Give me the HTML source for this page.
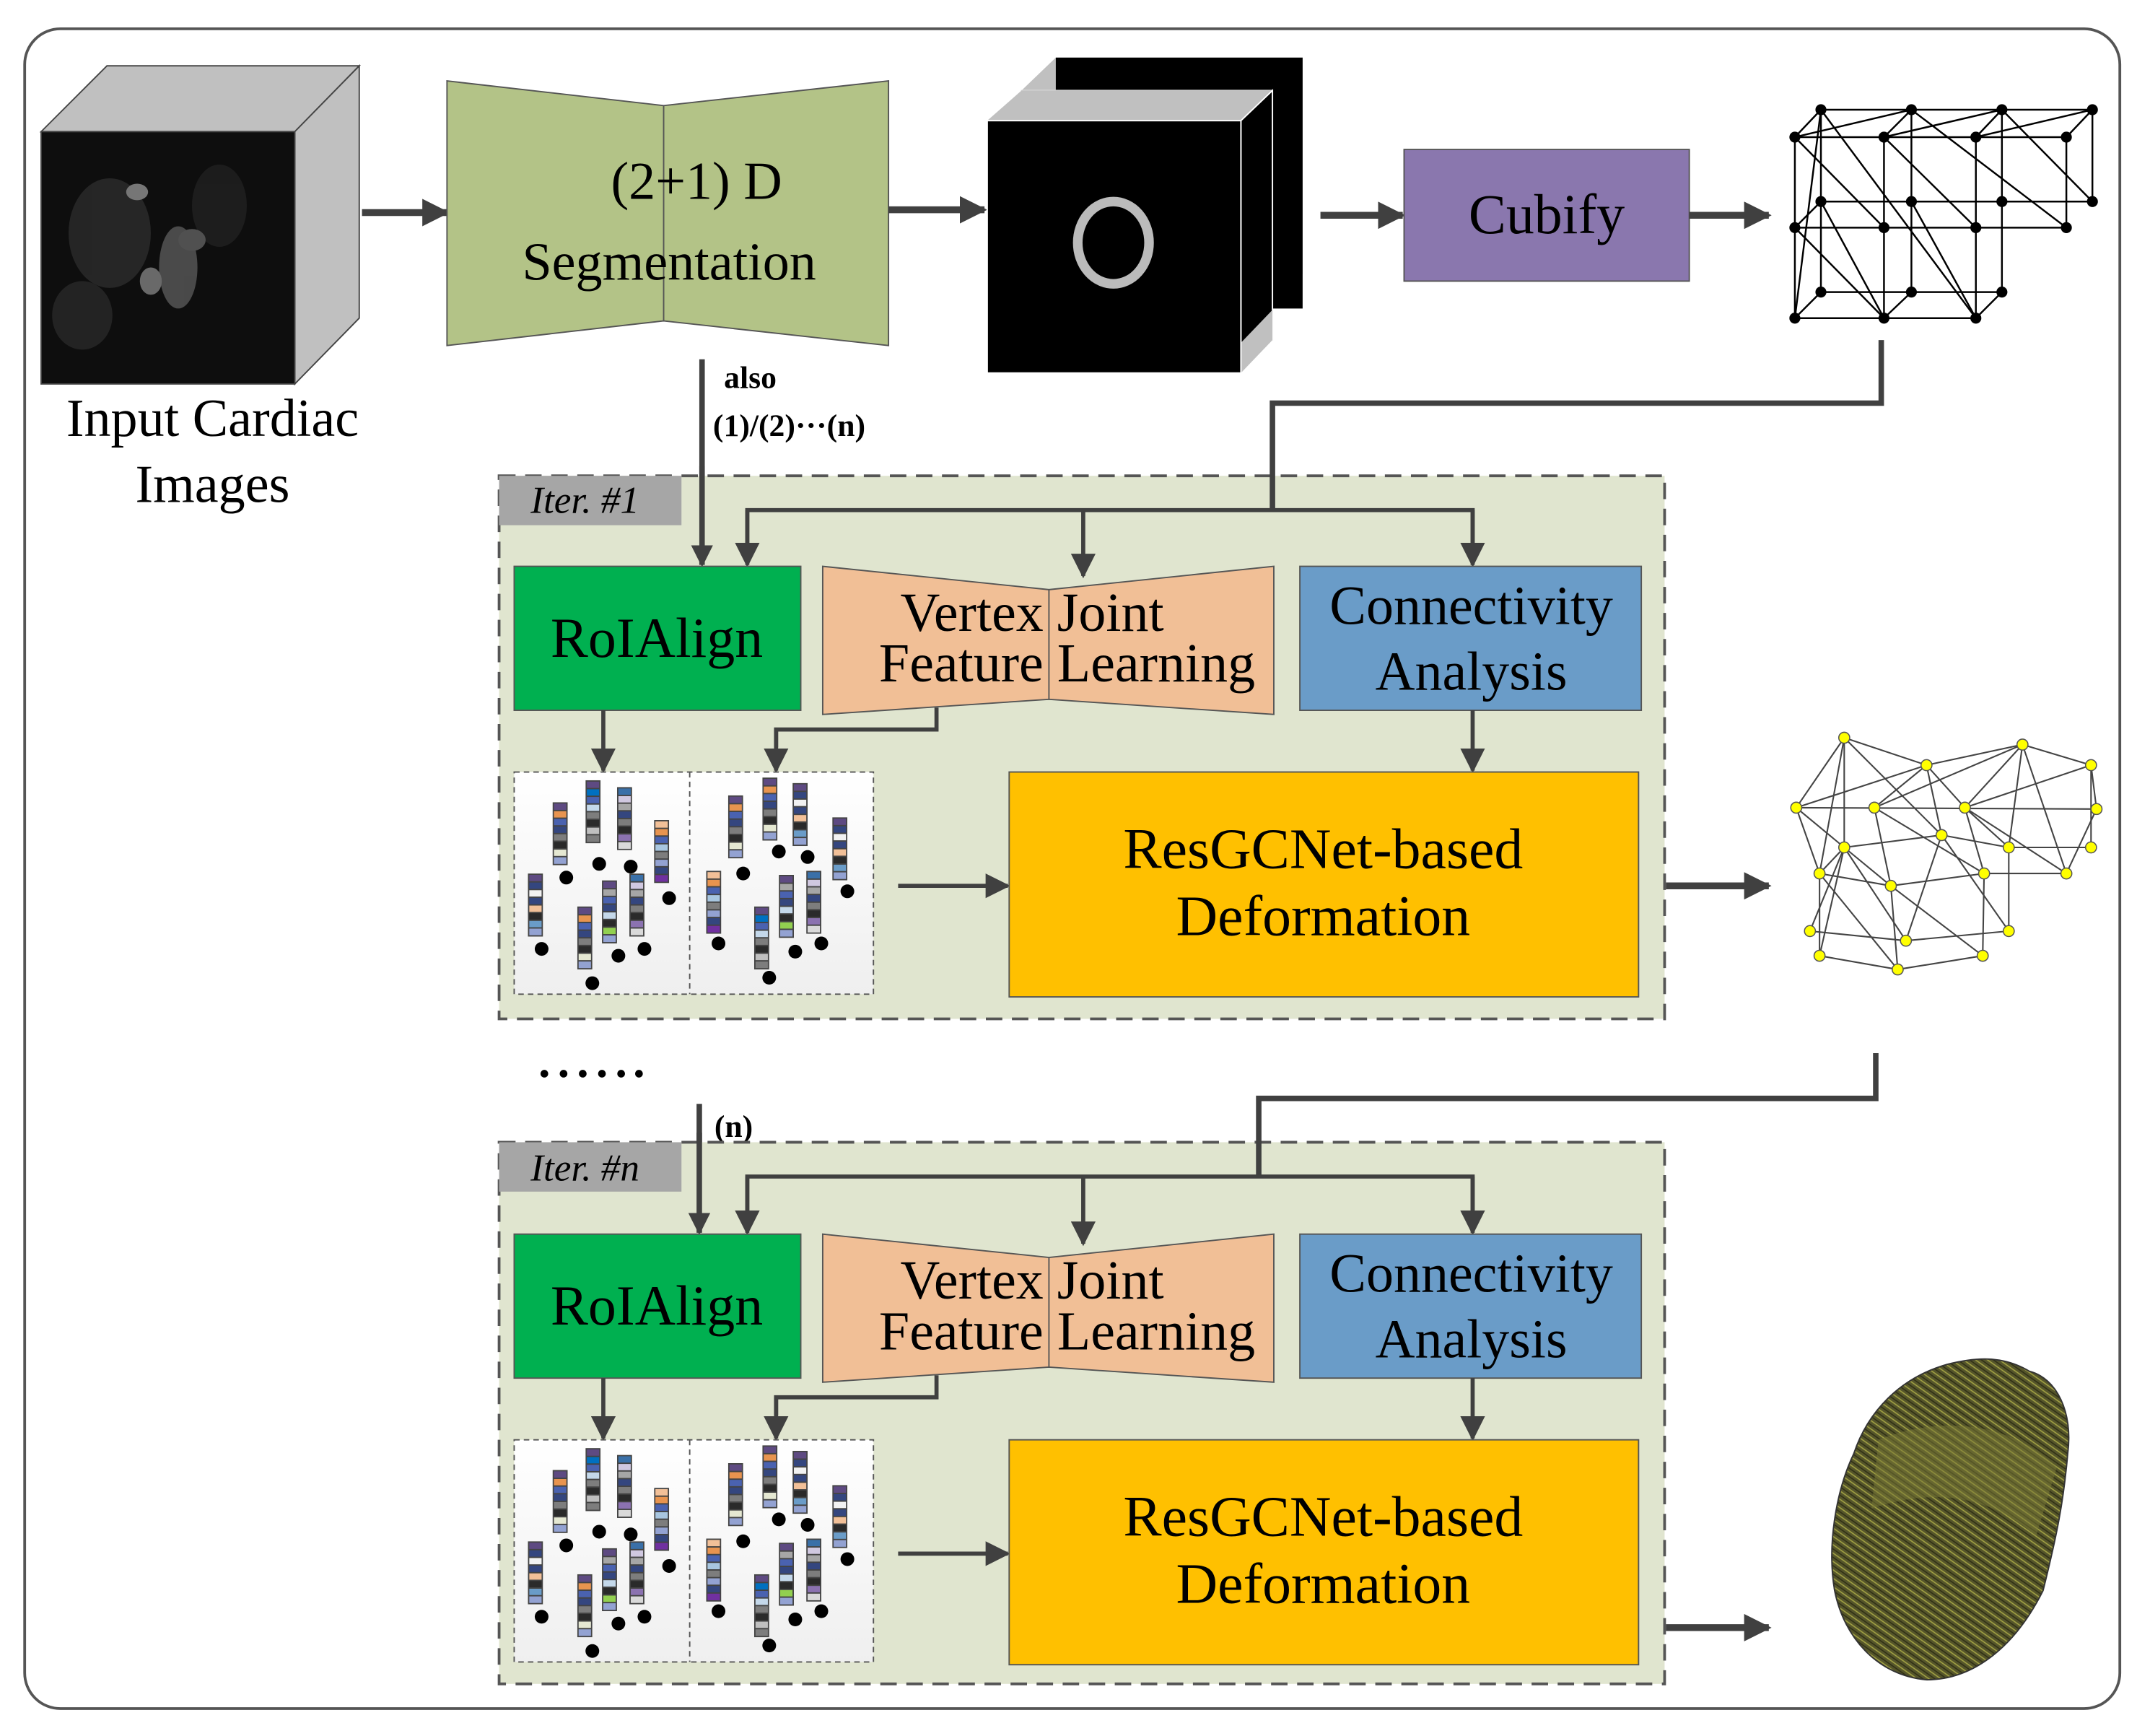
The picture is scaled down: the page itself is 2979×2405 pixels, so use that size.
<!DOCTYPE html>
<html><head><meta charset="utf-8"><style>
html,body{margin:0;padding:0;background:#fff;}
svg{display:block;}
text{font-family:"Liberation Serif",serif;fill:#000;}
</style></head><body>
<svg width="2979" height="2405" viewBox="0 0 1568 1266" preserveAspectRatio="none" xmlns="http://www.w3.org/2000/svg">
<defs>
<marker id="ah" viewBox="0 0 10 10" refX="9" refY="5" markerWidth="4" markerHeight="4" orient="auto"><path d="M0,0 L10,5 L0,10 Z" fill="#404040"/></marker>
<marker id="ah2" viewBox="0 0 10 10" refX="9" refY="5" markerWidth="6" markerHeight="6" orient="auto"><path d="M0,0 L10,5 L0,10 Z" fill="#404040"/></marker>
<linearGradient id="pg" x1="0" y1="0" x2="0" y2="1"><stop offset="0" stop-color="#ffffff"/><stop offset="1" stop-color="#efefef"/></linearGradient>
<pattern id="hz" width="5" height="5" patternUnits="userSpaceOnUse" patternTransform="rotate(35)"><rect width="5" height="5" fill="#55552a"/><line x1="0" y1="1" x2="5" y2="1" stroke="#a5a545" stroke-width="0.8"/><line x1="0" y1="3.5" x2="5" y2="3.5" stroke="#2e2e14" stroke-width="0.8"/></pattern>
<symbol id="s1" viewBox="0 0 11 46" width="11" height="46"><rect x="0" y="0" width="11" height="46" fill="#444"/><rect x="1" y="1" width="9" height="4.6" fill="#5e4a82"/><rect x="1" y="6.6" width="9" height="4.6" fill="#e8944f"/><rect x="1" y="12.2" width="9" height="4.6" fill="#4a62b0"/><rect x="1" y="17.8" width="9" height="4.6" fill="#34467f"/><rect x="1" y="23.4" width="9" height="4.6" fill="#7d7d7d"/><rect x="1" y="29" width="9" height="4.6" fill="#2a2a2a"/><rect x="1" y="34.6" width="9" height="4.6" fill="#e5e8d2"/><rect x="1" y="40.2" width="9" height="4.8" fill="#93a2d2"/></symbol>
<symbol id="s2" viewBox="0 0 11 46" width="11" height="46"><rect x="0" y="0" width="11" height="46" fill="#444"/><rect x="1" y="1" width="9" height="4.6" fill="#5e4a82"/><rect x="1" y="6.6" width="9" height="4.6" fill="#0070c0"/><rect x="1" y="12.2" width="9" height="4.6" fill="#4a62b0"/><rect x="1" y="17.8" width="9" height="4.6" fill="#c4d8ea"/><rect x="1" y="23.4" width="9" height="4.6" fill="#7d7d7d"/><rect x="1" y="29" width="9" height="4.6" fill="#2a2a2a"/><rect x="1" y="34.6" width="9" height="4.6" fill="#bfbfbf"/><rect x="1" y="40.2" width="9" height="4.8" fill="#7d7d7d"/></symbol>
<symbol id="s3" viewBox="0 0 11 46" width="11" height="46"><rect x="0" y="0" width="11" height="46" fill="#444"/><rect x="1" y="1" width="9" height="4.6" fill="#3a70a8"/><rect x="1" y="6.6" width="9" height="4.6" fill="#d0c8e0"/><rect x="1" y="12.2" width="9" height="4.6" fill="#a6a6a6"/><rect x="1" y="17.8" width="9" height="4.6" fill="#34467f"/><rect x="1" y="23.4" width="9" height="4.6" fill="#7d7d7d"/><rect x="1" y="29" width="9" height="4.6" fill="#2a2a2a"/><rect x="1" y="34.6" width="9" height="4.6" fill="#8b72b0"/><rect x="1" y="40.2" width="9" height="4.8" fill="#d9d9d9"/></symbol>
<symbol id="s4" viewBox="0 0 11 46" width="11" height="46"><rect x="0" y="0" width="11" height="46" fill="#444"/><rect x="1" y="1" width="9" height="4.6" fill="#f2c098"/><rect x="1" y="6.6" width="9" height="4.6" fill="#e8944f"/><rect x="1" y="12.2" width="9" height="4.6" fill="#4a62b0"/><rect x="1" y="17.8" width="9" height="4.6" fill="#a8c6e0"/><rect x="1" y="23.4" width="9" height="4.6" fill="#7d7d7d"/><rect x="1" y="29" width="9" height="4.6" fill="#93a2d2"/><rect x="1" y="34.6" width="9" height="4.6" fill="#34467f"/><rect x="1" y="40.2" width="9" height="4.8" fill="#7030a0"/></symbol>
<symbol id="s5" viewBox="0 0 11 46" width="11" height="46"><rect x="0" y="0" width="11" height="46" fill="#444"/><rect x="1" y="1" width="9" height="4.6" fill="#5e4a82"/><rect x="1" y="6.6" width="9" height="4.6" fill="#a6a6a6"/><rect x="1" y="12.2" width="9" height="4.6" fill="#4a62b0"/><rect x="1" y="17.8" width="9" height="4.6" fill="#34467f"/><rect x="1" y="23.4" width="9" height="4.6" fill="#c4d8ea"/><rect x="1" y="29" width="9" height="4.6" fill="#2a2a2a"/><rect x="1" y="34.6" width="9" height="4.6" fill="#92d050"/><rect x="1" y="40.2" width="9" height="4.8" fill="#93a2d2"/></symbol>
<symbol id="s6" viewBox="0 0 11 46" width="11" height="46"><rect x="0" y="0" width="11" height="46" fill="#444"/><rect x="1" y="1" width="9" height="4.6" fill="#5e4a82"/><rect x="1" y="6.6" width="9" height="4.6" fill="#34467f"/><rect x="1" y="12.2" width="9" height="4.6" fill="#f2f2f2"/><rect x="1" y="17.8" width="9" height="4.6" fill="#34467f"/><rect x="1" y="23.4" width="9" height="4.6" fill="#f2c098"/><rect x="1" y="29" width="9" height="4.6" fill="#2a2a2a"/><rect x="1" y="34.6" width="9" height="4.6" fill="#6a9cc8"/><rect x="1" y="40.2" width="9" height="4.8" fill="#93a2d2"/></symbol>
<g id="feat">
<rect x="375" y="563" width="262" height="162" fill="url(#pg)" stroke="#555" stroke-width="1" stroke-dasharray="4,3"/>
<line x1="503" y1="563" x2="503" y2="725" stroke="#555" stroke-width="1" stroke-dasharray="4,3"/>
<use href="#s2" x="427" y="569"/><use href="#s1" x="403" y="585"/><use href="#s3" x="450" y="574"/><use href="#s4" x="477" y="598"/>
<use href="#s6" x="385" y="637"/><use href="#s1" x="421" y="661"/><use href="#s5" x="439" y="642"/><use href="#s3" x="459" y="637"/>
<use href="#s1" x="531" y="580"/><use href="#s1" x="556" y="567"/><use href="#s6" x="578" y="571"/><use href="#s6" x="607" y="596"/>
<use href="#s4" x="515" y="635"/><use href="#s2" x="550" y="661"/><use href="#s5" x="568" y="638"/><use href="#s3" x="588" y="635"/>
<g fill="#000"><circle cx="413" cy="640" r="5"/><circle cx="437" cy="630" r="5"/><circle cx="460" cy="632" r="5"/><circle cx="488" cy="655" r="5"/><circle cx="395" cy="692" r="5"/><circle cx="451" cy="697" r="5"/><circle cx="470" cy="692" r="5"/><circle cx="432" cy="717" r="5"/>
<circle cx="568" cy="621" r="5"/><circle cx="589" cy="625" r="5"/><circle cx="542" cy="637" r="5"/><circle cx="618" cy="650" r="5"/><circle cx="524" cy="688" r="5"/><circle cx="580" cy="694" r="5"/><circle cx="599" cy="688" r="5"/><circle cx="561" cy="713" r="5"/></g>
</g>
</defs>

<rect x="18" y="21" width="1528" height="1225" rx="26" fill="#fff" stroke="#555" stroke-width="2"/>

<!-- input cube -->
<polygon points="30,96 78,48 262,48 215,96" fill="#c0c0c0" stroke="#444" stroke-width="1"/>
<polygon points="215,96 262,48 262,232 215,280" fill="#c0c0c0" stroke="#444" stroke-width="1"/>
<rect x="30" y="96" width="185" height="184" fill="#0e0e0e" stroke="#444" stroke-width="1"/>
<g opacity="0.75">
<ellipse cx="80" cy="170" rx="30" ry="40" fill="#2e2e2e"/>
<ellipse cx="130" cy="195" rx="14" ry="30" fill="#5e5e5e"/>
<ellipse cx="110" cy="205" rx="8" ry="10" fill="#888"/>
<ellipse cx="60" cy="230" rx="22" ry="25" fill="#2a2a2a"/>
<ellipse cx="160" cy="150" rx="20" ry="30" fill="#222"/>
<ellipse cx="100" cy="140" rx="8" ry="6" fill="#999"/>
<ellipse cx="140" cy="175" rx="10" ry="8" fill="#666"/>
</g>
<text x="155" y="318" font-size="39" text-anchor="middle">Input Cardiac</text>
<text x="155" y="366" font-size="39" text-anchor="middle">Images</text>

<line x1="264" y1="155" x2="326" y2="155" stroke="#404040" stroke-width="5" marker-end="url(#ah)"/>

<!-- segmentation -->
<polygon points="326,59 484,77 648,59 648,252 484,234 326,252" fill="#b3c387" stroke="#555" stroke-width="1"/>
<line x1="484" y1="77" x2="484" y2="234" stroke="#555" stroke-width="1"/>
<text x="508" y="145" font-size="39" text-anchor="middle">(2+1) D</text>
<text x="488" y="204" font-size="39" text-anchor="middle">Segmentation</text>

<line x1="648" y1="153" x2="718" y2="153" stroke="#404040" stroke-width="5" marker-end="url(#ah)"/>

<!-- stack -->
<polygon points="745,66 770,42 950,42 950,200 928,225 745,225" fill="#c0c0c0"/>
<rect x="770" y="42" width="180" height="183" fill="#000"/>
<rect x="745" y="66" width="183" height="182" fill="#000" stroke="#ddd" stroke-width="1"/>
<polygon points="720,88 745,66 928,66 905,88" fill="#c0c0c0"/>
<polygon points="905,88 928,66 928,248 905,272" fill="#000" stroke="#fff" stroke-width="1"/>
<polygon points="905,250 928,226 928,248 905,272" fill="#c0c0c0"/>
<rect x="720" y="88" width="185" height="184" fill="#000" stroke="#fff" stroke-width="1"/>
<ellipse cx="812" cy="177" rx="26" ry="30" fill="none" stroke="#bbb" stroke-width="7"/>

<line x1="963" y1="157" x2="1023" y2="157" stroke="#404040" stroke-width="5" marker-end="url(#ah)"/>
<rect x="1024" y="109" width="208" height="96" fill="#8a77ae" stroke="#555" stroke-width="1"/>
<text x="1128" y="170" font-size="41" text-anchor="middle">Cubify</text>
<line x1="1232" y1="157" x2="1290" y2="157" stroke="#404040" stroke-width="5" marker-end="url(#ah)"/>

<!-- cube grid mesh -->
<g stroke="#000" stroke-width="1.3" fill="none">
<polyline points="1328,80 1526,80"/><polyline points="1328,147 1526,147"/><polyline points="1328,213 1460,213"/>
<polyline points="1309,100 1507,100"/><polyline points="1309,166 1507,166"/><polyline points="1309,232 1441,232"/>
<line x1="1309" y1="100" x2="1309" y2="232"/><line x1="1374" y1="100" x2="1374" y2="232"/><line x1="1441" y1="100" x2="1441" y2="232"/><line x1="1507" y1="100" x2="1507" y2="166"/>
<line x1="1328" y1="80" x2="1328" y2="213"/><line x1="1394" y1="80" x2="1394" y2="213"/><line x1="1460" y1="80" x2="1460" y2="213"/><line x1="1526" y1="80" x2="1526" y2="147"/>
<line x1="1309" y1="100" x2="1328" y2="80"/><line x1="1374" y1="100" x2="1394" y2="80"/><line x1="1441" y1="100" x2="1460" y2="80"/><line x1="1507" y1="100" x2="1526" y2="80"/>
<line x1="1309" y1="166" x2="1328" y2="147"/><line x1="1309" y1="232" x2="1328" y2="213"/><line x1="1374" y1="232" x2="1394" y2="213"/><line x1="1441" y1="232" x2="1460" y2="213"/>
<line x1="1309" y1="100" x2="1394" y2="80"/><line x1="1374" y1="100" x2="1460" y2="80"/><line x1="1441" y1="100" x2="1526" y2="80"/>
<line x1="1328" y1="80" x2="1441" y2="232"/><line x1="1394" y1="80" x2="1507" y2="166"/><line x1="1460" y1="80" x2="1526" y2="147"/>
<line x1="1309" y1="100" x2="1374" y2="166"/><line x1="1374" y1="100" x2="1441" y2="166"/><line x1="1328" y1="147" x2="1374" y2="232"/><line x1="1394" y1="147" x2="1441" y2="232"/>
<line x1="1309" y1="166" x2="1374" y2="232"/><line x1="1309" y1="232" x2="1328" y2="80"/>
</g>
<g fill="#000">
<circle cx="1328" cy="80" r="4"/><circle cx="1394" cy="80" r="4"/><circle cx="1460" cy="80" r="4"/><circle cx="1526" cy="80" r="4"/>
<circle cx="1328" cy="147" r="4"/><circle cx="1394" cy="147" r="4"/><circle cx="1460" cy="147" r="4"/><circle cx="1526" cy="147" r="4"/>
<circle cx="1328" cy="213" r="4"/><circle cx="1394" cy="213" r="4"/><circle cx="1460" cy="213" r="4"/>
<circle cx="1309" cy="100" r="4"/><circle cx="1374" cy="100" r="4"/><circle cx="1441" cy="100" r="4"/><circle cx="1507" cy="100" r="4"/>
<circle cx="1309" cy="166" r="4"/><circle cx="1374" cy="166" r="4"/><circle cx="1441" cy="166" r="4"/><circle cx="1507" cy="166" r="4"/>
<circle cx="1309" cy="232" r="4"/><circle cx="1374" cy="232" r="4"/><circle cx="1441" cy="232" r="4"/>
</g>

<!-- also arrow -->
<line x1="512" y1="262" x2="512" y2="412" stroke="#404040" stroke-width="4" marker-end="url(#ah)"/>
<text x="528" y="283" font-size="23" font-weight="bold">also</text>
<text x="520" y="318" font-size="23" font-weight="bold">(1)/(2)···(n)</text>

<!-- ITER 1 -->
<rect x="364" y="347" width="850" height="396" fill="#e0e5cf" stroke="#555" stroke-width="2" stroke-dasharray="12,7"/>
<rect x="364" y="347" width="133" height="36" fill="#a6a6a6"/>
<text x="387" y="374" font-size="28" font-style="italic" fill="#222">Iter. #1</text>
<polyline points="1372,248 1372,294 928,294 928,372" fill="none" stroke="#404040" stroke-width="4"/>
<line x1="512" y1="340" x2="512" y2="412" stroke="#404040" stroke-width="4" marker-end="url(#ah)"/>
<polyline points="545,410 545,372 1074,372 1074,410" fill="none" stroke="#404040" stroke-width="3"/>
<line x1="545" y1="372" x2="545" y2="412" stroke="#404040" stroke-width="3" marker-end="url(#ah2)"/>
<line x1="790" y1="372" x2="790" y2="420" stroke="#404040" stroke-width="3" marker-end="url(#ah2)"/>
<line x1="1074" y1="372" x2="1074" y2="412" stroke="#404040" stroke-width="3" marker-end="url(#ah2)"/>
<rect x="375" y="413" width="209" height="105" fill="#00b050" stroke="#555" stroke-width="1"/>
<text x="479" y="479" font-size="41" text-anchor="middle">RoIAlign</text>
<polygon points="600,413 765,430 929,413 929,521 765,510 600,521" fill="#f1bf96" stroke="#555" stroke-width="1"/>
<line x1="765" y1="430" x2="765" y2="510" stroke="#555" stroke-width="1"/>
<text x="761" y="460" font-size="40" text-anchor="end">Vertex</text>
<text x="761" y="497" font-size="40" text-anchor="end">Feature</text>
<text x="771" y="460" font-size="40">Joint</text>
<text x="771" y="497" font-size="40">Learning</text>
<rect x="948" y="413" width="249" height="105" fill="#6a9cc8" stroke="#555" stroke-width="1"/>
<text x="1073" y="455" font-size="40" text-anchor="middle">Connectivity</text>
<text x="1073" y="503" font-size="40" text-anchor="middle">Analysis</text>
<line x1="440" y1="518" x2="440" y2="562" stroke="#404040" stroke-width="3" marker-end="url(#ah2)"/>
<polyline points="683,516 683,532 566,532 566,545" fill="none" stroke="#404040" stroke-width="3"/>
<line x1="566" y1="532" x2="566" y2="562" stroke="#404040" stroke-width="3" marker-end="url(#ah2)"/>
<line x1="1074" y1="518" x2="1074" y2="562" stroke="#404040" stroke-width="3" marker-end="url(#ah2)"/>
<use href="#feat"/>
<line x1="655" y1="646" x2="735" y2="646" stroke="#404040" stroke-width="3" marker-end="url(#ah2)"/>
<rect x="736" y="563" width="459" height="164" fill="#ffc000" stroke="#555" stroke-width="1"/>
<text x="965" y="633" font-size="42" text-anchor="middle">ResGCNet-based</text>
<text x="965" y="682" font-size="42" text-anchor="middle">Deformation</text>
<line x1="1215" y1="646" x2="1290" y2="646" stroke="#404040" stroke-width="5" marker-end="url(#ah)"/>

<!-- yellow mesh -->
<g stroke="#444" stroke-width="1.1">
<line x1="1345" y1="538" x2="1405" y2="558"/><line x1="1345" y1="538" x2="1310" y2="589"/><line x1="1345" y1="538" x2="1345" y2="618"/><line x1="1345" y1="538" x2="1416" y2="609"/><line x1="1345" y1="538" x2="1327" y2="637"/>
<line x1="1405" y1="558" x2="1475" y2="543"/><line x1="1405" y1="558" x2="1310" y2="589"/><line x1="1405" y1="558" x2="1367" y2="589"/><line x1="1405" y1="558" x2="1433" y2="589"/><line x1="1405" y1="558" x2="1416" y2="609"/>
<line x1="1475" y1="543" x2="1525" y2="558"/><line x1="1475" y1="543" x2="1367" y2="589"/><line x1="1475" y1="543" x2="1433" y2="589"/><line x1="1475" y1="543" x2="1465" y2="618"/><line x1="1475" y1="543" x2="1507" y2="637"/>
<line x1="1525" y1="558" x2="1433" y2="589"/><line x1="1525" y1="558" x2="1529" y2="590"/><line x1="1525" y1="558" x2="1525" y2="618"/>
<line x1="1310" y1="589" x2="1529" y2="590"/><line x1="1310" y1="589" x2="1345" y2="618"/><line x1="1310" y1="589" x2="1327" y2="637"/>
<line x1="1367" y1="589" x2="1379" y2="646"/><line x1="1367" y1="589" x2="1447" y2="637"/>
<line x1="1433" y1="589" x2="1447" y2="637"/><line x1="1433" y1="589" x2="1465" y2="618"/><line x1="1433" y1="589" x2="1507" y2="637"/>
<line x1="1529" y1="590" x2="1507" y2="637"/>
<line x1="1416" y1="609" x2="1345" y2="618"/><line x1="1416" y1="609" x2="1465" y2="618"/><line x1="1416" y1="609" x2="1390" y2="686"/><line x1="1416" y1="609" x2="1465" y2="679"/>
<line x1="1345" y1="618" x2="1327" y2="637"/><line x1="1345" y1="618" x2="1379" y2="646"/><line x1="1345" y1="618" x2="1390" y2="686"/><line x1="1345" y1="618" x2="1320" y2="679"/><line x1="1345" y1="618" x2="1327" y2="697"/>
<line x1="1465" y1="618" x2="1525" y2="618"/><line x1="1465" y1="618" x2="1465" y2="679"/>
<line x1="1327" y1="637" x2="1379" y2="646"/><line x1="1327" y1="637" x2="1327" y2="697"/><line x1="1327" y1="637" x2="1384" y2="707"/>
<line x1="1447" y1="637" x2="1507" y2="637"/><line x1="1447" y1="637" x2="1379" y2="646"/><line x1="1447" y1="637" x2="1446" y2="697"/>
<line x1="1379" y1="646" x2="1384" y2="707"/><line x1="1379" y1="646" x2="1446" y2="697"/>
<line x1="1320" y1="679" x2="1390" y2="686"/><line x1="1390" y1="686" x2="1465" y2="679"/>
<line x1="1327" y1="697" x2="1384" y2="707"/><line x1="1384" y1="707" x2="1446" y2="697"/>
</g>
<g fill="#ffff00" stroke="#555" stroke-width="0.8">
<circle cx="1345" cy="538" r="4"/><circle cx="1405" cy="558" r="4"/><circle cx="1475" cy="543" r="4"/><circle cx="1525" cy="558" r="4"/>
<circle cx="1310" cy="589" r="4"/><circle cx="1367" cy="589" r="4"/><circle cx="1433" cy="589" r="4"/><circle cx="1529" cy="590" r="4"/>
<circle cx="1416" cy="609" r="4"/><circle cx="1345" cy="618" r="4"/><circle cx="1465" cy="618" r="4"/><circle cx="1525" cy="618" r="4"/>
<circle cx="1327" cy="637" r="4"/><circle cx="1447" cy="637" r="4"/><circle cx="1507" cy="637" r="4"/><circle cx="1379" cy="646" r="4"/>
<circle cx="1320" cy="679" r="4"/><circle cx="1390" cy="686" r="4"/><circle cx="1465" cy="679" r="4"/>
<circle cx="1327" cy="697" r="4"/><circle cx="1384" cy="707" r="4"/><circle cx="1446" cy="697" r="4"/>
</g>

<!-- dots -->
<g fill="#000"><circle cx="397" cy="783" r="2.8"/><circle cx="411" cy="783" r="2.8"/><circle cx="425" cy="783" r="2.8"/><circle cx="439" cy="783" r="2.8"/><circle cx="453" cy="783" r="2.8"/><circle cx="466" cy="783" r="2.8"/></g>

<line x1="510" y1="805" x2="510" y2="898" stroke="#404040" stroke-width="4" marker-end="url(#ah)"/>
<text x="521" y="829" font-size="23" font-weight="bold">(n)</text>

<!-- ITER n -->
<rect x="364" y="833" width="850" height="395" fill="#e0e5cf" stroke="#555" stroke-width="2" stroke-dasharray="12,7"/>
<rect x="364" y="833" width="133" height="36" fill="#a6a6a6"/>
<text x="387" y="861" font-size="28" font-style="italic" fill="#222">Iter. #n</text>
<polyline points="1368,768 1368,801 918,801 918,858" fill="none" stroke="#404040" stroke-width="4"/>
<line x1="510" y1="826" x2="510" y2="899" stroke="#404040" stroke-width="4" marker-end="url(#ah)"/>
<polyline points="545,897 545,858 1074,858 1074,897" fill="none" stroke="#404040" stroke-width="3"/>
<line x1="545" y1="858" x2="545" y2="899" stroke="#404040" stroke-width="3" marker-end="url(#ah2)"/>
<line x1="790" y1="858" x2="790" y2="907" stroke="#404040" stroke-width="3" marker-end="url(#ah2)"/>
<line x1="1074" y1="858" x2="1074" y2="899" stroke="#404040" stroke-width="3" marker-end="url(#ah2)"/>
<rect x="375" y="900" width="209" height="105" fill="#00b050" stroke="#555" stroke-width="1"/>
<text x="479" y="966" font-size="41" text-anchor="middle">RoIAlign</text>
<polygon points="600,900 765,917 929,900 929,1008 765,997 600,1008" fill="#f1bf96" stroke="#555" stroke-width="1"/>
<line x1="765" y1="917" x2="765" y2="997" stroke="#555" stroke-width="1"/>
<text x="761" y="947" font-size="40" text-anchor="end">Vertex</text>
<text x="761" y="984" font-size="40" text-anchor="end">Feature</text>
<text x="771" y="947" font-size="40">Joint</text>
<text x="771" y="984" font-size="40">Learning</text>
<rect x="948" y="900" width="249" height="105" fill="#6a9cc8" stroke="#555" stroke-width="1"/>
<text x="1073" y="942" font-size="40" text-anchor="middle">Connectivity</text>
<text x="1073" y="990" font-size="40" text-anchor="middle">Analysis</text>
<line x1="440" y1="1005" x2="440" y2="1049" stroke="#404040" stroke-width="3" marker-end="url(#ah2)"/>
<polyline points="683,1003 683,1019 566,1019 566,1032" fill="none" stroke="#404040" stroke-width="3"/>
<line x1="566" y1="1019" x2="566" y2="1049" stroke="#404040" stroke-width="3" marker-end="url(#ah2)"/>
<line x1="1074" y1="1005" x2="1074" y2="1049" stroke="#404040" stroke-width="3" marker-end="url(#ah2)"/>
<use href="#feat" y="487"/>
<line x1="655" y1="1133" x2="735" y2="1133" stroke="#404040" stroke-width="3" marker-end="url(#ah2)"/>
<rect x="736" y="1050" width="459" height="164" fill="#ffc000" stroke="#555" stroke-width="1"/>
<text x="965" y="1120" font-size="42" text-anchor="middle">ResGCNet-based</text>
<text x="965" y="1169" font-size="42" text-anchor="middle">Deformation</text>
<line x1="1215" y1="1187" x2="1290" y2="1187" stroke="#404040" stroke-width="5" marker-end="url(#ah)"/>

<!-- heart -->
<ellipse cx="1405" cy="1110" rx="58" ry="100" fill="none" stroke="#ddd" stroke-width="1"/>
<path d="M1352,1060 C1362,1030 1385,1005 1420,995 C1440,990 1460,988 1480,1000 C1500,1005 1512,1030 1508,1060 C1505,1095 1500,1120 1490,1160 C1470,1200 1440,1225 1405,1225 C1370,1222 1345,1195 1338,1160 C1332,1125 1340,1085 1352,1060 Z" fill="url(#hz)" stroke="#333" stroke-width="1"/>
<path d="M1370,1050 C1420,1030 1470,1040 1500,1070 L1485,1120 C1450,1090 1410,1085 1365,1100 Z" fill="#7a7a36" opacity="0.5"/>
</svg>
</body></html>
